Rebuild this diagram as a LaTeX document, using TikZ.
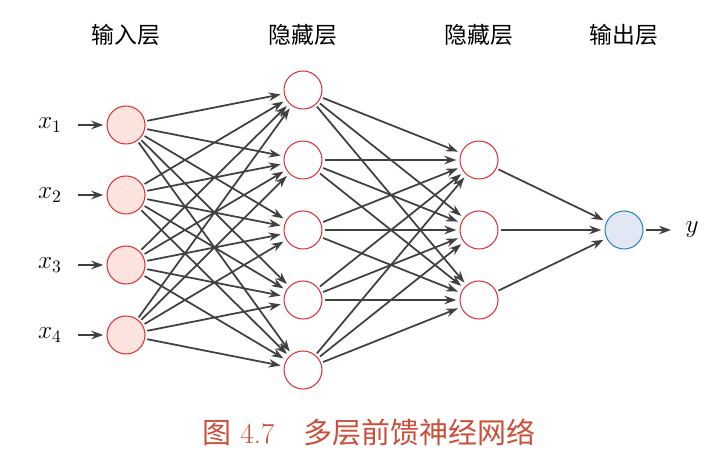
\documentclass[tikz,border=0pt]{standalone}
\usepackage{fontspec}
\newfontfamily\cjk{Noto Sans CJK SC}
\usetikzlibrary{arrows.meta}
\definecolor{netRed}{HTML}{D8363A}
\definecolor{netPink}{HTML}{FDE3DE}
\definecolor{netBlue}{HTML}{2A86C4}
\definecolor{netLight}{HTML}{E1E8F4}
\definecolor{netEdge}{HTML}{404040}
\definecolor{netCaption}{HTML}{C9503A}

\begin{document}
\begin{tikzpicture}[
  x=0.02cm, y=-0.02cm,
  neuron/.style={circle, minimum size=0.76cm, inner sep=0pt, line width=0.6pt},
  inunit/.style={neuron, draw=netRed, fill=netPink},
  hidunit/.style={neuron, draw=netRed, fill=white},
  outunit/.style={neuron, draw=netBlue, fill=netLight},
  conn/.style={-{Stealth[length=2.4mm, width=1.7mm]}, line width=1pt, draw=netEdge,
               shorten >=1.8pt, shorten <=1.2pt},
  layer/.style={font=\cjk\fontsize{13}{15}\selectfont},
  sym/.style={font=\fontsize{14}{16}\selectfont, inner sep=2pt}
]
\useasboundingbox (0,0) rectangle (722,465);

% layer titles
\node[layer] (tin)  at (126,35) {输入层};
\node[layer] (th1)  at (303,35) {隐藏层};
\node[layer] (th2)  at (479,35) {隐藏层};
\node[layer] (tout) at (624,35) {输出层};

% units
\foreach \i/\y in {1/125, 2/195, 3/265, 4/335} {
  \node[inunit] (in\i) at (126,\y) {};
  \node[sym] (x\i) at (50,\y) {$x_{\i}$};
  \draw[conn, shorten <=7pt] (x\i) -- (in\i);
}
\foreach \i/\y in {1/90, 2/160, 3/230, 4/300, 5/370}
  \node[hidunit] (ha\i) at (303,\y) {};
\foreach \i/\y in {1/160, 2/230, 3/300}
  \node[hidunit] (hb\i) at (479,\y) {};
\node[outunit] (out) at (624,230) {};
\node[sym] (y) at (692,230) {$y$};

% weights
\foreach \i in {1,...,4}
  \foreach \j in {1,...,5}
    \draw[conn] (in\i) -- (ha\j);
\foreach \i in {1,...,5}
  \foreach \j in {1,...,3}
    \draw[conn] (ha\i) -- (hb\j);
\foreach \j in {1,...,3}
  \draw[conn] (hb\j) -- (out);
\draw[conn, shorten >=6pt] (out) -- (y);

\node[font=\fontsize{16.5}{19}\selectfont, text=netCaption] (cap) at (369,432)
  {{\cjk 图} 4.7\quad{\cjk 多层前馈神经网络}};
\end{tikzpicture}
\end{document}
